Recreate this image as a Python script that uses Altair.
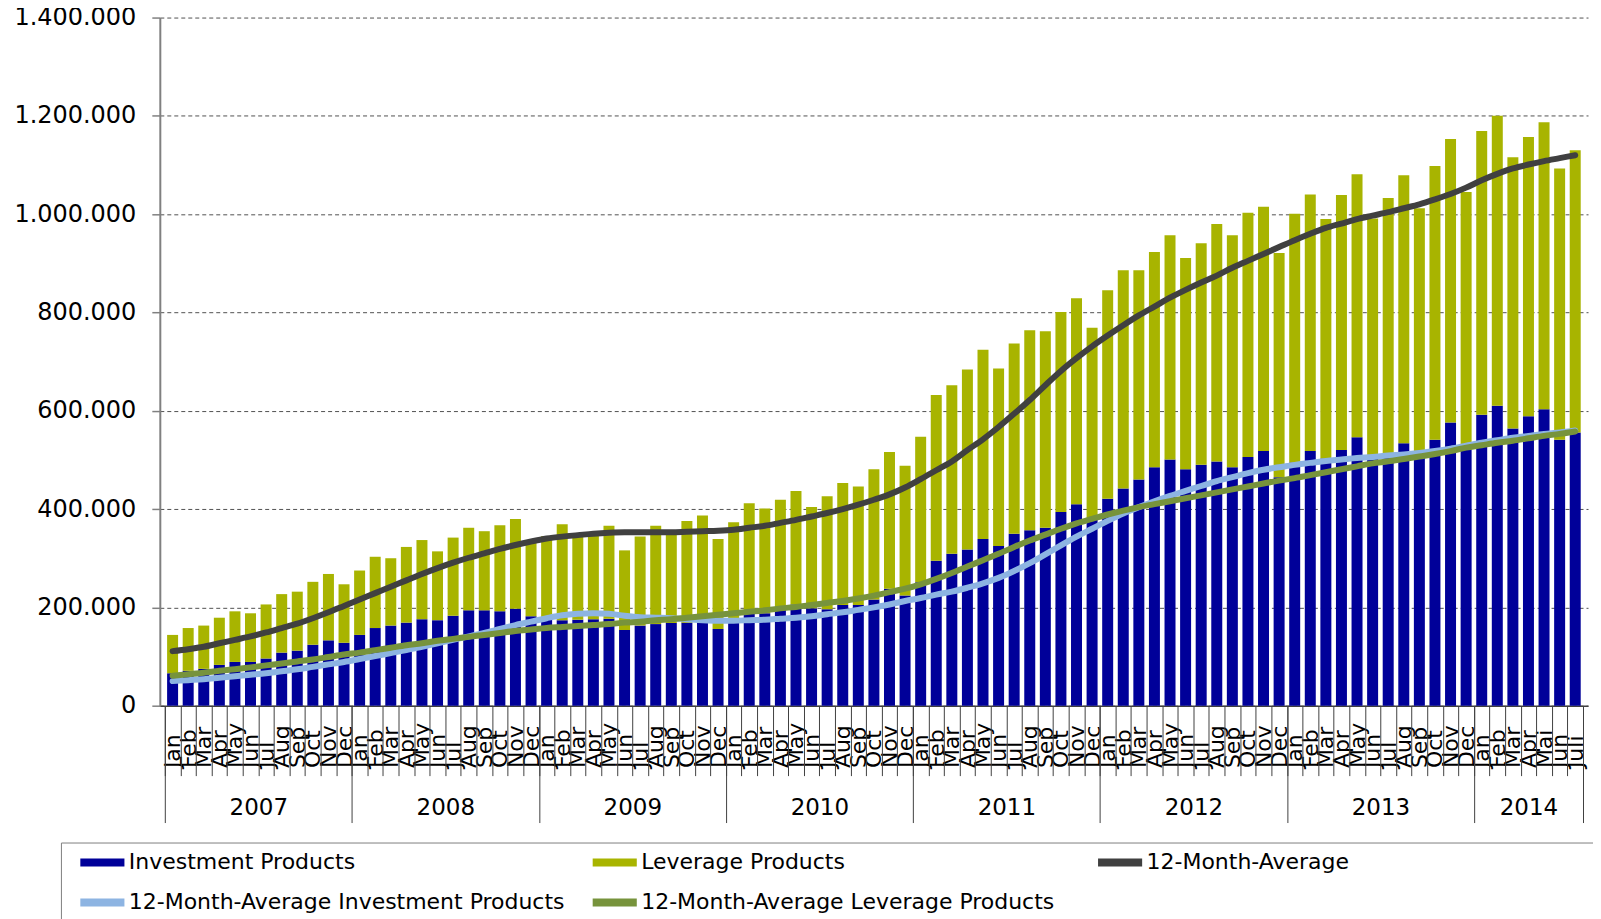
import altair as alt
import pandas as pd

# ---------------- data (values in thousands) ----------------
month_names = ["Jan", "Feb", "Mar", "Apr", "May", "Jun", "Jul", "Aug", "Sep", "Oct", "Nov", "Dec"]
month_labels = month_names * 7 + ["Jan", "Feb", "Mar", "Apr", "Mai", "Jun", "Juli"]
years = [2007, 2008, 2009, 2010, 2011, 2012, 2013, 2014]
months_per_year = [12, 12, 12, 12, 12, 12, 12, 7]

series_names = [
    "Investment Products",
    "Leverage Products",
    "12-Month-Average",
    "12-Month-Average Investment Products",
    "12-Month-Average Leverage Products",
]
series_colors = ["#000099", "#A8B400", "#404040", "#8DB4E2", "#77933C"]

investment = [
    66, 71, 75, 83, 89, 89, 96, 108, 112, 124, 133, 128,
    144, 158, 163, 169, 176, 174, 183, 194, 194, 192, 197, 182,
    175, 174, 175, 176, 177, 154, 163, 166, 168, 169, 169, 156,
    175, 195, 188, 195, 206, 198, 196, 205, 205, 216, 238, 224,
    251, 295, 309, 318, 339, 325, 350, 357, 362, 394, 410, 379,
    421, 442, 460, 485, 501, 481, 490, 497, 485, 506, 518, 465,
    495, 518, 503, 520, 546, 510, 514, 534, 517, 541, 576, 520,
    592, 610, 564, 589, 603, 541, 556,
]
leverage = [
    78, 87, 88, 96, 103, 99, 110, 119, 120, 128, 135, 119,
    131, 145, 137, 154, 161, 140, 159, 168, 161, 175, 183, 150,
    170, 195, 169, 173, 189, 162, 181, 200, 182, 207, 218, 183,
    198, 217, 213, 224, 231, 206, 230, 248, 241, 265, 278, 264,
    296, 337, 343, 366, 385, 361, 387, 407, 400, 407, 419, 390,
    424, 444, 426, 438, 456, 430, 451, 483, 472, 497, 497, 456,
    506, 522, 487, 519, 535, 481, 519, 545, 495, 557, 577, 525,
    577, 590, 552, 568, 584, 552, 574,
]
avg_total = [
    111, 115, 120, 127, 134, 141, 149, 158, 167, 178, 190, 203,
    216, 229, 242, 255, 268, 280, 291, 301, 310, 319, 327, 334,
    340, 344, 347, 350, 352, 353, 353, 353, 353, 354, 355, 356,
    358, 362, 366, 372, 378, 385, 392, 400, 409, 419, 430, 444,
    461, 479, 497, 520, 542, 567, 594, 622, 652, 681, 707, 731,
    753, 774, 794, 812, 830, 846, 861, 875, 891, 905, 919, 933,
    947, 960, 972, 981, 990, 997, 1004, 1012, 1020, 1030, 1041, 1054,
    1069, 1082, 1093, 1101, 1108, 1114, 1120,
]
avg_invest = [
    50, 52, 54, 57, 60, 63, 66, 70, 74, 79, 84, 89,
    95, 101, 107, 113, 120, 127, 134, 141, 148, 156, 164, 171,
    178, 184, 187, 188, 187, 183, 180, 179, 178, 176, 174, 173,
    173, 174, 175, 177, 179, 182, 186, 190, 195, 200, 206, 213,
    219, 226, 232, 240, 249, 260, 274, 290, 308, 326, 344, 360,
    376, 391, 404, 416, 427, 437, 447, 457, 465, 473, 480, 485,
    490, 494, 498, 501, 504, 506, 509, 511, 514, 518, 523, 529,
    535, 540, 545, 549, 553, 556, 560,
]
avg_lever = [
    61, 64, 67, 71, 74, 78, 82, 86, 90, 94, 99, 104,
    108, 113, 118, 123, 127, 132, 136, 140, 144, 148, 152, 155,
    158, 160, 162, 164, 166, 169, 171, 174, 176, 179, 182, 185,
    188, 191, 194, 198, 201, 205, 209, 213, 218, 224, 231, 238,
    247, 258, 270, 283, 296, 309, 323, 336, 348, 360, 371, 380,
    389, 397, 404, 410, 416, 422, 428, 434, 440, 446, 452, 458,
    463, 469, 475, 481, 487, 493, 497, 502, 507, 512, 518, 525,
    530, 535, 539, 544, 549, 553, 558,
]

# ---------------- tables ----------------
n = len(month_labels)
bar_rows = []
for i in range(n):
    bar_rows.append({"t": i, "series": series_names[0], "value": investment[i] * 1000, "ord": 0})
    bar_rows.append({"t": i, "series": series_names[1], "value": leverage[i] * 1000, "ord": 1})
bar_df = pd.DataFrame(bar_rows)

line_rows = []
for name, arr in zip(series_names[2:], [avg_total, avg_invest, avg_lever]):
    for i in range(n):
        line_rows.append({"t": i, "series": name, "value": arr[i] * 1000})
line_df = pd.DataFrame(line_rows)

# axis helper values
starts = []
s = 0
for c in months_per_year:
    starts.append(s)
    s += c
year_bounds = [b - 0.5 for b in starts] + [n - 0.5]
year_centers = [st + (c - 1) / 2 for st, c in zip(starts, months_per_year)]
month_bounds = [i - 0.5 for i in range(n + 1)]

month_expr = "[" + ",".join("'%s'" % m for m in month_labels) + "][datum.value]"
year_expr = ("[" + ",".join(str(y) for y in years) + "][indexof(["
             + ",".join(str(c) for c in year_centers) + "], datum.value)]")

# legend columns are widened with blank (invisible) glyphs so that the
# three columns sit on an even pitch and the frame runs to the right edge
BLANK = "\u2800"
legend_label_expr = (
    "datum.label == '12-Month-Average' ? datum.label + '" + BLANK * 20 + "' : "
    "datum.label == '12-Month-Average Leverage Products' ? datum.label + '" + BLANK * 1 + "' : "
    "datum.label"
)

FONT = "DejaVu Sans"
xscale = alt.Scale(domain=[-0.5, n - 0.5], nice=False, zero=False)
yscale = alt.Scale(domain=[0, 1400000], nice=False)
cscale = alt.Scale(domain=series_names, range=series_colors)

legend = alt.Legend(
    title=None, orient="none", legendX=-99, legendY=826, columns=3,
    direction="horizontal", symbolType="stroke", symbolSize=1950,
    symbolStrokeWidth=8, symbolOffset=8, labelFontSize=22, labelFont=FONT,
    labelColor="#000000", labelLimit=0, labelOffset=0, labelExpr=legend_label_expr,
    columnPadding=15, rowPadding=14, padding=7, clipHeight=26,
    strokeColor="#808080", gridAlign="each",
)

x_month_labels = alt.X(
    "t:Q", scale=xscale, title=None,
    axis=alt.Axis(orient="bottom", values=list(range(n)), labelExpr=month_expr,
                  labelAngle=270, labelAlign="left", labelBaseline="middle",
                  labelPadding=62, labelFontSize=22, labelFont=FONT,
                  labelColor="#000000", labelOverlap=False, labelFlush=False,
                  labelBound=False, ticks=False, grid=False, domain=True,
                  domainColor="#404040", domainWidth=1.5),
)
x_month_ticks = alt.X(
    "t:Q", scale=xscale, title=None,
    axis=alt.Axis(orient="bottom", values=month_bounds, labels=False, ticks=True,
                  tickSize=70, tickColor="#404040", tickWidth=1, grid=False,
                  domain=False),
)
x_year_ticks = alt.X(
    "t:Q", scale=xscale, title=None,
    axis=alt.Axis(orient="bottom", values=year_bounds, labels=False, ticks=True,
                  tickSize=117, tickColor="#404040", tickWidth=1, grid=False,
                  domain=False),
)
x_year_labels = alt.X(
    "t:Q", scale=xscale, title=None,
    axis=alt.Axis(orient="bottom", values=year_centers, labelExpr=year_expr,
                  labelFontSize=23, labelFont=FONT, labelColor="#000000",
                  labelPadding=91, labelOverlap=False, labelFlush=False,
                  ticks=False, grid=False, domain=False),
)

y_axis = alt.Axis(
    orient="left",
    values=list(range(0, 1400001, 200000)),
    labelExpr="replace(format(datum.value, ',d'), /,/g, '.')",
    labelFontSize=24, labelFont=FONT, labelColor="#000000", labelPadding=16,
    tickSize=8, tickColor="#808080", tickWidth=1.5, domainColor="#808080",
    domainWidth=2, grid=True, gridColor="#505050", gridDash=[4, 3],
    gridWidth=1, title=None,
)

bars = alt.Chart(bar_df).mark_bar(size=11).encode(
    x=x_month_labels,
    y=alt.Y("value:Q", stack="zero", scale=yscale, axis=y_axis),
    color=alt.Color("series:N", scale=cscale, legend=legend),
    order=alt.Order("ord:Q", sort="ascending"),
)


def line_layer(name, xenc):
    return alt.Chart(line_df).transform_filter(
        alt.datum.series == name
    ).mark_line(strokeWidth=6, interpolate="monotone", strokeCap="round").encode(
        x=xenc,
        y=alt.Y("value:Q", scale=yscale, axis=y_axis),
        color=alt.Color("series:N", scale=cscale, legend=legend),
    )


l_total = line_layer(series_names[2], x_month_ticks)
l_inv = line_layer(series_names[3], x_year_ticks)
l_lev = line_layer(series_names[4], x_year_labels)

chart = alt.layer(bars, l_total, l_inv, l_lev).resolve_scale(
    x="shared", y="shared", color="shared"
).resolve_axis(x="independent", y="shared").properties(
    width=1430, height=689,
    autosize=alt.AutoSizeParams(type="none"),
    padding={"left": 152, "top": 9, "right": 5, "bottom": 213},
).configure(font=FONT).configure_view(stroke=None)

chart.save("out.html", embed_options={"renderer": "svg", "actions": False})
